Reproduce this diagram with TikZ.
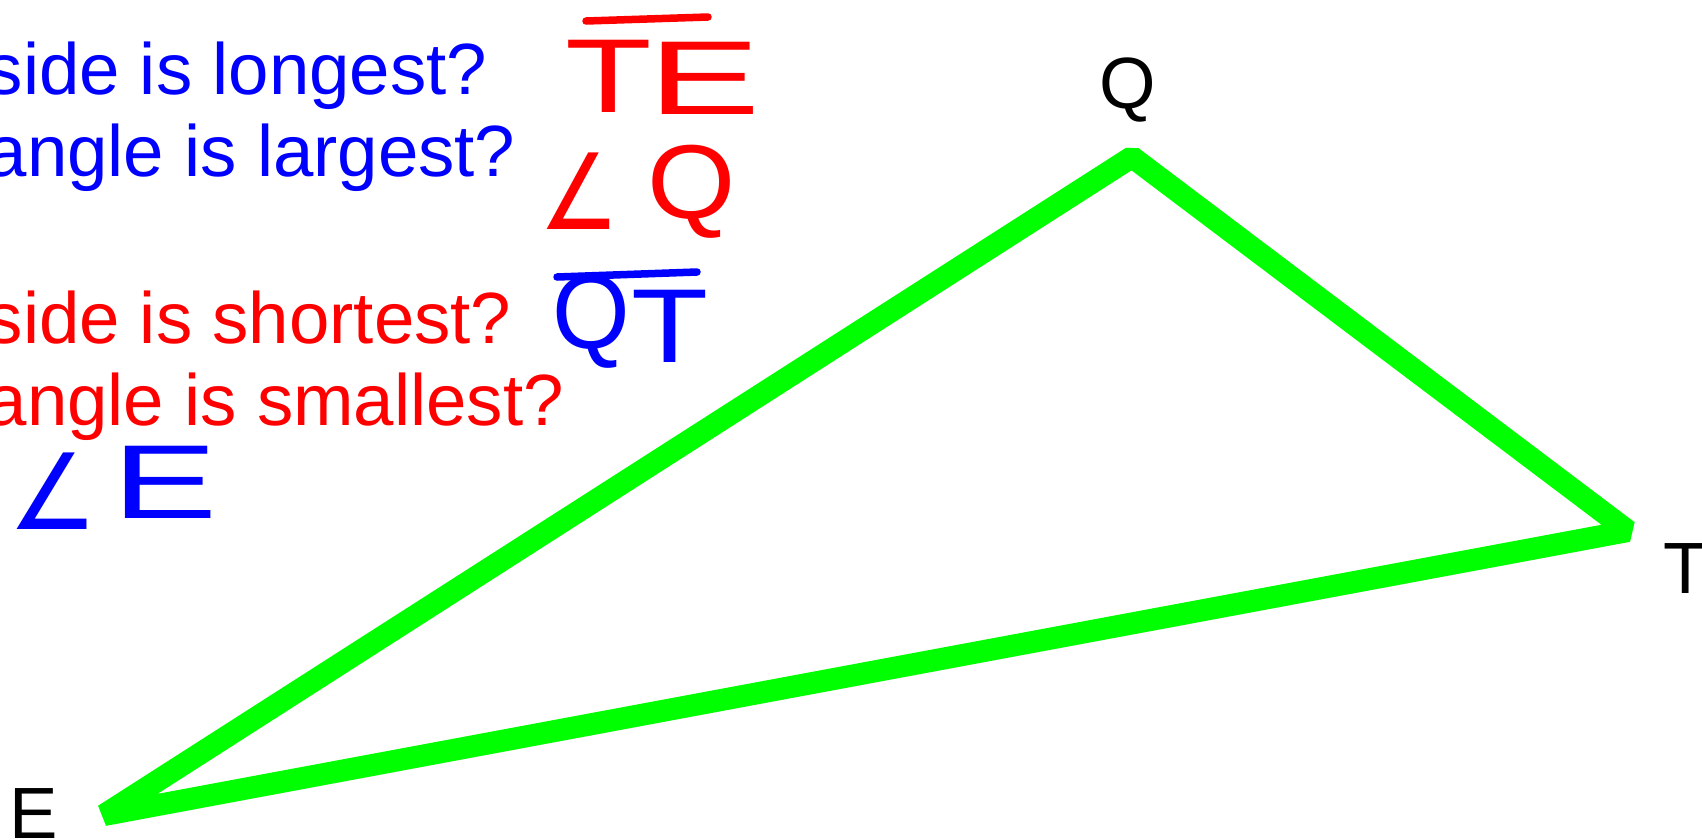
\documentclass[tikz,border=0pt]{standalone}
\usepackage{fontspec}
\setmainfont{Liberation Sans}
\newfontfamily\anglefont{DejaVu Sans}
\usepackage{tikz}
\usetikzlibrary{positioning}
\definecolor{qblue}{HTML}{0000FF}
\definecolor{qred}{HTML}{FF0000}
\definecolor{qgreen}{HTML}{00FF00}
\newcommand{\hand}[2]{\scalebox{#1}[1]{#2}}

\begin{document}
\begin{tikzpicture}[x=0.1mm, y=-0.1mm,
    question/.style={font=\fontsize{20.66}{24}\selectfont, inner sep=0pt, anchor=base west},
    vlabel/.style={font=\fontsize{20.66}{24}\selectfont, inner sep=0pt, anchor=base},
    hand/.style={font=\fontsize{29.9}{34}\selectfont, inner sep=0pt},
    side/.style={line width=2.2mm, qgreen, line join=bevel},
    bar/.style={line width=0.75mm, line cap=round},
  ]
  \useasboundingbox (0,0) rectangle (1702,839);

  \def\qx{-14}   % questions start left of the frame

  % --- questions ---
  \node[question, text=qblue] (q1) at (\qx, 94)  {side is longest?};
  \node[question, text=qblue] (q2) at (\qx, 176) {angle is largest?};
  \node[question, text=qred]  (q3) at (\qx, 343) {side is shortest?};
  \node[question, text=qred]  (q4) at (\qx, 425) {angle is smallest?};

  % --- answers, written by hand ---
  \node[hand, text=qred] (a1t) at (609, 76) {\hand{1.35}{T}};
  \node[hand, text=qred] (a1e) at (705, 78) {\hand{1.6}{E}};
  \draw[bar, qred] (586, 21) -- (708, 17);

  \node[hand, text=qred] (a2a) at (580, 191) {\hand{0.85}{\anglefont ∠}};
  \node[hand, text=qred] (a2q) at (692, 192) {\hand{1.08}{Q}};

  \node[hand, text=qblue] (a3q) at (591, 322) {\hand{0.95}{Q}};
  \node[hand, text=qblue] (a3t) at (670, 326) {\hand{1.2}{T}};
  \draw[bar, qblue] (557, 277) -- (697, 272);

  \node[hand, text=qblue] (a4a) at (53, 491)  {\hand{0.95}{\anglefont ∠}};
  \node[hand, text=qblue] (a4e) at (165, 482) {\hand{1.5}{E}};

  % --- triangle ---
  \coordinate (Q) at (1132, 157);
  \coordinate (T) at (1628, 531);
  \coordinate (E) at (104, 815);
  \draw[side] (E) -- (Q) -- (T) -- cycle;

  \node[vlabel] (lq) at (1128, 108) {Q};
  \node[vlabel] (lt) at (1686, 593) {T};
  \node[vlabel, anchor=base west] (le) at (9, 838) {E};

\end{tikzpicture}
\end{document}
